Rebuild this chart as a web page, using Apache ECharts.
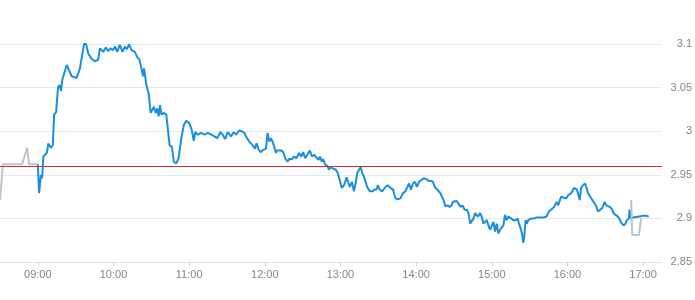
<!DOCTYPE html>
<html>
<head>
<meta charset="utf-8">
<script src="https://cdn.jsdelivr.net/npm/echarts@6/dist/echarts.min.js"></script>
<style>
html,body{margin:0;padding:0;background:#fff;}
#chart{width:695px;height:300px;}
</style>
</head>
<body>
<div id="chart"></div>
<script>
// minutes relative to 09:00, prices
const tickMinutes = [0, 60, 120, 180, 240, 300, 360, 420, 480];
const tickLabels = ['09:00','10:00','11:00','12:00','13:00','14:00','15:00','16:00','17:00'];
const prevClose = 2.962;

const preMinutes = [-30, -27.7, -12.4, -8.5, -6.9, 0];
const prePrices  = [2.921, 2.962, 2.962, 2.981, 2.962, 2.962];

const postMinutes = [470.5, 471.4, 476.7, 478.5];
const postPrices  = [2.921, 2.881, 2.881, 2.900];

const minutes = [
 0,1.0,2.4,3.4,4.4,7.1,8.4,10.3,11.9,12.9,14.5,16.0,17.1,18.4,19.4,20.8,22.9,25.0,26.9,28.1,
 30.8,33.4,34.8,36.6,38.2,40.0,42.7,45.3,47.9,49.2,51.8,54.0,55.8,57.7,59.7,61.3,62.9,65.0,67.2,69.0,
 70.8,72.4,74.3,76.9,78.8,80.6,81.6,82.6,83.4,84.2,86.1,87.9,89.5,90.9,92.1,93.5,94.8,95.8,96.9,98.0,
 100.0,101.9,103.2,104.5,106.3,107.9,109.8,111.6,113.8,115.8,117.7,120.3,122.1,123.7,124.8,126.9,129.6,132.2,134.8,137.5,
 140.1,142.2,144.8,146.6,148.5,150.6,153.3,155.3,157.2,159.8,161.6,163.8,165.1,167.7,170.3,172.2,173.5,175.1,176.6,178.2,
 179.6,180.9,182.2,183.5,184.9,186.1,187.5,188.8,189.3,190.9,192.8,194.6,196.2,198.0,199.3,201.5,203.3,205.1,207.2,208.8,
 210.4,212.0,213.8,215.7,217.3,219.1,220.9,222.5,223.8,225.2,226.2,227.8,229.6,230.9,232.5,234.1,236.2,237.8,239.4,241.0,
 242.8,244.9,246.5,247.5,249.1,250.7,252.3,253.3,254.7,256.0,257.3,258.6,260.0,261.2,263.3,265.2,267.0,268.6,269.6,271.2,
 273.0,274.4,275.7,277.5,279.7,281.7,283.6,285.4,287.6,289.6,291.5,292.8,294.4,295.9,297.5,299.1,300.7,302.3,303.8,306.0,
 308.1,309.9,311.7,313.3,315.2,317.0,319.2,320.4,321.8,323.1,324.9,326.5,328.1,329.1,330.5,332.1,333.6,335.2,336.8,338.4,
 340.2,341.5,342.9,344.1,345.5,346.8,348.9,350.8,352.0,353.4,354.7,356.0,357.3,358.7,359.9,361.3,362.6,363.9,365.2,366.6,
 367.8,369.2,370.5,371.8,373.1,375.3,377.1,378.9,380.5,381.6,383.2,384.2,385.0,385.8,386.8,387.9,388.9,390.3,391.5,393.7,
 395.5,398.2,400.8,403.4,405.3,406.9,407.9,409.5,411.3,412.6,413.4,415.0,416.6,418.1,419.2,420.7,422.3,423.9,425.3,426.6,
 427.6,428.7,429.8,430.8,432.4,434.0,435.0,436.3,437.7,438.9,440.3,441.6,442.9,444.2,446.0,447.6,449.5,450.8,452.1,453.9,
 455.5,456.6,458.2,460.0,461.4,462.6,464.5,466.1,467.1,468.7,469.3,470.0,471.9,475.9,479.8,482.4,484.5
];
const prices = [
 2.962,2.929,2.950,2.946,2.971,2.975,2.986,2.981,2.984,3.019,3.022,3.050,3.053,3.046,3.059,3.057,3.076,3.069,3.063,3.063,
 3.061,3.072,3.084,3.100,3.100,3.089,3.083,3.080,3.082,3.095,3.091,3.096,3.092,3.095,3.093,3.097,3.091,3.099,3.091,3.097,
 3.094,3.100,3.093,3.091,3.085,3.082,3.076,3.078,3.063,3.072,3.053,3.043,3.021,3.019,3.028,3.021,3.026,3.017,3.030,3.019,
 3.021,3.019,3.001,2.984,2.982,2.965,2.963,2.969,2.992,3.007,3.012,3.009,3.001,2.989,2.999,2.996,2.998,2.996,2.998,2.996,
 2.994,2.992,2.999,2.996,2.991,2.999,2.994,2.999,2.996,3.001,3.000,2.998,2.994,2.988,2.984,2.980,2.986,2.979,2.976,2.978,
 2.976,2.980,2.998,2.988,2.992,2.988,2.982,2.975,2.978,2.978,2.978,2.976,2.969,2.965,2.968,2.968,2.971,2.969,2.975,2.971,
 2.976,2.969,2.973,2.978,2.971,2.973,2.970,2.967,2.971,2.965,2.968,2.962,2.960,2.956,2.959,2.957,2.956,2.952,2.944,2.935,
 2.938,2.947,2.940,2.936,2.942,2.931,2.942,2.952,2.954,2.959,2.952,2.948,2.946,2.936,2.931,2.931,2.933,2.933,2.938,2.933,
 2.931,2.933,2.936,2.938,2.935,2.933,2.923,2.922,2.923,2.929,2.931,2.931,2.940,2.933,2.940,2.942,2.936,2.942,2.943,2.946,
 2.945,2.943,2.943,2.942,2.935,2.933,2.929,2.927,2.921,2.914,2.915,2.913,2.915,2.919,2.919,2.920,2.917,2.913,2.915,2.910,
 2.910,2.906,2.894,2.892,2.900,2.906,2.902,2.906,2.902,2.894,2.896,2.898,2.892,2.887,2.889,2.896,2.885,2.894,2.883,2.887,
 2.889,2.892,2.904,2.898,2.902,2.900,2.898,2.898,2.900,2.894,2.887,2.881,2.872,2.879,2.898,2.894,2.898,2.896,2.900,2.900,
 2.901,2.901,2.901,2.902,2.908,2.910,2.910,2.913,2.919,2.915,2.917,2.925,2.924,2.926,2.923,2.927,2.928,2.931,2.935,2.937,
 2.933,2.935,2.921,2.935,2.938,2.940,2.936,2.929,2.927,2.923,2.921,2.917,2.914,2.908,2.910,2.912,2.919,2.915,2.913,2.913,
 2.910,2.906,2.904,2.902,2.899,2.895,2.892,2.894,2.898,2.900,2.910,2.900,2.901,2.902,2.903,2.903,2.902
];

const zip = (a, b) => a.map((v, i) => [v, b[i]]);

const chart = echarts.init(document.getElementById('chart'), null, {renderer: 'canvas'});
chart.setOption({
  animation: false,
  grid: {left: 0, right: 31, top: 44, bottom: 38},
  xAxis: {
    type: 'value',
    min: -30,
    max: 495,
    axisLine: {show: true, lineStyle: {color: '#dfe3e8', width: 1}},
    axisTick: {show: true, length: 4, lineStyle: {color: '#cfd5dc'}, customValues: tickMinutes},
    axisLabel: {
      show: true, color: '#7d8894', fontSize: 11, margin: 7,
      fontFamily: 'Liberation Sans, Arial, sans-serif',
      customValues: tickMinutes,
      formatter: (v) => { const i = tickMinutes.indexOf(v); return i >= 0 ? tickLabels[i] : ''; }
    },
    splitLine: {show: false}
  },
  yAxis: {
    type: 'value',
    position: 'right',
    min: 2.85,
    max: 3.1,
    interval: 0.05,
    axisLine: {show: false},
    axisTick: {show: false},
    axisLabel: {
      color: '#7d8894', fontSize: 11, align: 'right', margin: 30,
      fontFamily: 'Liberation Sans, Arial, sans-serif'
    },
    splitLine: {show: true, lineStyle: {color: '#e6e9ed', width: 1}}
  },
  series: [
    {
      type: 'line', data: zip(minutes, prices), showSymbol: false, symbol: 'none',
      lineStyle: {color: '#1a8fe0', width: 2}, z: 3,
      markLine: {
        silent: true, symbol: 'none', label: {show: false},
        lineStyle: {color: '#d0312d', width: 1, type: 'solid'},
        data: [{yAxis: prevClose}]
      }
    },
    {
      type: 'line', data: zip(preMinutes, prePrices), showSymbol: false, symbol: 'none',
      lineStyle: {color: '#bac4cc', width: 2}, z: 2
    },
    {
      type: 'line', data: zip(postMinutes, postPrices), showSymbol: false, symbol: 'none',
      lineStyle: {color: '#bac4cc', width: 2}, z: 4
    }
  ]
});
</script>
</body>
</html>
